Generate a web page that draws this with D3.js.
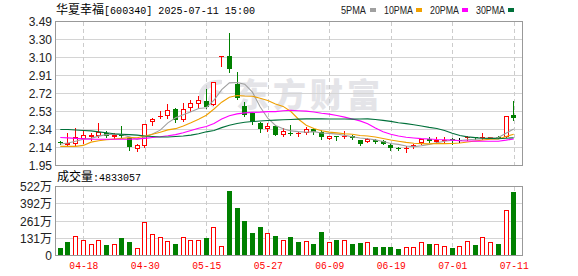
<!DOCTYPE html>
<html><head><meta charset="utf-8">
<script src="https://cdn.jsdelivr.net/npm/d3@7"></script>
<style>body{margin:0;background:#fff;}svg{display:block}</style>
</head><body><svg id="c" width="578" height="276"></svg>
<script>
const dates = ["04-15","04-16","04-17","04-18","04-21","04-22","04-23","04-24","04-25","04-28","04-29","04-30","05-06","05-07","05-08","05-09","05-12","05-13","05-14","05-15","05-16","05-19","05-20","05-21","05-22","05-23","05-26","05-27","05-28","05-29","05-30","06-03","06-04","06-05","06-06","06-09","06-10","06-11","06-12","06-13","06-16","06-17","06-18","06-19","06-20","06-23","06-24","06-25","06-26","06-27","06-30","07-01","07-02","07-03","07-04","07-07","07-08","07-09","07-10","07-11"];
const open  = [2.20,2.17,2.18,2.23,2.25,2.27,2.30,2.26,2.28,2.24, 2.13,2.16,2.41,2.47,2.48,2.55,2.44,2.57,2.61,2.64, 2.60,3.11,3.12,2.82,2.59,2.51,2.40,2.345,2.37,2.28, 2.295,2.29,2.30,2.34,2.31,2.23,2.27,2.25,2.27,2.22, 2.20,2.22,2.21,2.17,2.135,2.13,2.15,2.19,2.23,2.20, 2.215,2.23,2.22,2.24,2.25,2.24,2.255,2.26,2.25,2.49];
const high  = [2.21,2.30,2.35,2.32,2.30,2.40,2.32,2.30,2.37,2.25, 2.18,2.39,2.46,2.53,2.61,2.56,2.62,2.65,2.69,2.77, 2.84,3.12,3.37,2.95,2.63,2.52,2.41,2.40,2.38,2.35, 2.38,2.31,2.36,2.35,2.33,2.27,2.27,2.32,2.28,2.225, 2.24,2.23,2.22,2.19,2.15,2.16,2.18,2.23,2.25,2.25, 2.25,2.24,2.24,2.27,2.26,2.30,2.26,2.27,2.48,2.64];
const low   = [2.18,2.16,2.16,2.19,2.22,2.26,2.26,2.24,2.26,2.12, 2.11,2.15,2.38,2.46,2.46,2.41,2.43,2.53,2.57,2.57, 2.60,3.01,2.95,2.66,2.48,2.39,2.31,2.32,2.275,2.27, 2.28,2.27,2.29,2.29,2.23,2.23,2.22,2.24,2.23,2.17, 2.20,2.195,2.18,2.12,2.12,2.09,2.14,2.18,2.20,2.19, 2.20,2.18,2.20,2.22,2.23,2.23,2.24,2.24,2.25,2.44];
const close = [2.19,2.19,2.26,2.28,2.28,2.31,2.27,2.28,2.27,2.15, 2.17,2.39,2.45,2.48,2.54,2.44,2.55,2.62,2.65,2.58, 2.84,3.12,2.98,2.67,2.49,2.41,2.34,2.37,2.28,2.32, 2.285,2.295,2.34,2.31,2.25,2.27,2.265,2.27,2.24,2.18, 2.23,2.20,2.18,2.14,2.13,2.14,2.17,2.23,2.21,2.22, 2.22,2.22,2.22,2.25,2.24,2.25,2.26,2.25,2.48,2.46];
const volume = [540000,1000000,1510000,1200000,900000,1200000,770000,900000,1300000,1000000, 590000,2510000,1590000,1430000,1130000,900000,1380000,1200000,1200000,1300000, 2120000,740000,4910000,3610000,2610000,1690000,2150000,1740000,1460000,1200000, 1410000,1000000,1070000,840000,1770000,1000000,1150000,1150000,840000,920000, 1000000,640000,640000,640000,460000,610000,610000,1000000,840000,840000, 690000,540000,690000,1130000,770000,1380000,1000000,840000,3450000,4833057];
const volRise = [0,0,1,1,1,1,0,1,0,0, 1,1,1,1,1,0,1,1,1,0, 1,1,0,0,0,0,0,1,0,1, 0,0,1,0,0,1,0,1,0,0, 1,0,0,0,0,1,1,1,0,1, 1,0,1,1,0,1,1,0,1,0];
const ma5  = [2.18,2.19,2.21,2.23,2.240,2.264,2.280,2.284,2.282,2.256, 2.228,2.252,2.286,2.328,2.406,2.460,2.492,2.526,2.560,2.568, 2.648,2.762,2.834,2.838,2.820,2.734,2.578,2.456,2.378,2.344, 2.320,2.312,2.306,2.312,2.298,2.294,2.286,2.272,2.258,2.244, 2.236,2.224,2.206,2.186,2.176,2.158,2.152,2.162,2.176,2.194, 2.210,2.220,2.218,2.226,2.230,2.236,2.244,2.250,2.296,2.340];
const ma10 = [2.155,2.155,2.155,2.165,2.20,2.215,2.225,2.232,2.24,2.248, 2.246,2.266,2.285,2.305,2.331,2.344,2.372,2.406,2.444,2.487, 2.554,2.627,2.680,2.699,2.694,2.691,2.670,2.645,2.608,2.582, 2.527,2.445,2.381,2.345,2.321,2.307,2.299,2.289,2.285,2.271, 2.265,2.255,2.239,2.222,2.210,2.197,2.188,2.184,2.181,2.185, 2.184,2.186,2.190,2.201,2.212,2.223,2.232,2.234,2.261,2.285];
const ma20 = [2.25,2.245,2.24,2.235,2.23,2.23,2.23,2.23,2.23,2.23, 2.235,2.24,2.25,2.258,2.268,2.28,2.30,2.325,2.349,2.368, 2.400,2.447,2.483,2.502,2.513,2.518,2.521,2.526,2.526,2.535, 2.541,2.536,2.531,2.522,2.508,2.499,2.485,2.467,2.447,2.427, 2.396,2.350,2.310,2.284,2.266,2.252,2.244,2.237,2.233,2.228, 2.225,2.221,2.215,2.212,2.211,2.210,2.210,2.209,2.221,2.235];
const ma30 = [2.335,2.335,2.33,2.325,2.32,2.31,2.30,2.29,2.285,2.28, 2.275,2.265,2.26,2.255,2.255,2.26,2.265,2.275,2.29,2.31, 2.325,2.355,2.38,2.40,2.412,2.42,2.426,2.432,2.435,2.439, 2.442,2.446,2.449,2.450,2.449,2.447,2.447,2.447,2.446,2.447, 2.449,2.442,2.433,2.422,2.408,2.398,2.386,2.373,2.358,2.346, 2.325,2.295,2.270,2.256,2.248,2.242,2.240,2.236,2.242,2.247];
const priceTickValues = [1.95,2.1425,2.335,2.5275,2.72,2.9125,3.105,3.2975,3.49];
const priceTickLabels = ["1.95","2.14","2.34","2.53","2.72","2.91","3.10","3.30","3.49"];
const volTickValues = [0,1305000,2610000,3915000,5220000];
const volTickLabels = ["0","131万","261万","392万","522万"];
const xLabelDates = ["04-18","04-30","05-15","05-27","06-09","06-19","07-01","07-11"];
const maNames = ["5PMA","10PMA","20PMA","30PMA"];

const RED="#ff0000", GREEN="#008000";
const maColors = ["#a0a0a0","#f0a000","#ff00ff","#00703a"];
const svg = d3.select("#c");
const L=55.5, R=522.5, T=21.5, B=165.5, VT=186.5, VB=255.5;

const x = d3.scalePoint().domain(dates).range([60.3, 513.7]);
const y = d3.scaleLinear().domain([1.95, 3.49]).range([B, T]);
const yv = d3.scaleLinear().domain([0, 5220000]).range([VB, VT]);
const px = v => Math.round(v) + 0.5;

// watermark
const wm = svg.append("g");
wm.append("text").attr("x",236).attr("y",107).text("东方财富")
  .attr("font-family","'Noto Sans CJK SC'").attr("font-weight",900).attr("font-size",33)
  .attr("letter-spacing",4).attr("fill","#e4e4e8");
wm.append("path").attr("d","M222,80 C200,78 192,98 206,106 C200,96 206,86 222,84 Z M216,90 C206,94 206,104 214,108 C212,100 216,95 224,92 Z")
  .attr("fill","#e4e4e8");

// grids
const grid = svg.append("g").attr("shape-rendering","crispEdges");
grid.selectAll(".hg").data(priceTickValues).join("line")
  .attr("x1",L).attr("x2",R).attr("y1",d=>px(y(d)-0.5)).attr("y2",d=>px(y(d)-0.5))
  .attr("stroke","#d4d4d4");
grid.selectAll(".vg").data(volTickValues).join("line")
  .attr("x1",L).attr("x2",R).attr("y1",d=>px(yv(d)-0.5)).attr("y2",d=>px(yv(d)-0.5))
  .attr("stroke","#d4d4d4");
[[T,B],[VT,VB]].forEach(([a,b])=>{
  grid.append("g").selectAll("line").data(xLabelDates).join("line")
    .attr("x1",d=>px(x(d))).attr("x2",d=>px(x(d))).attr("y1",a).attr("y2",b)
    .attr("stroke","#cccccc").attr("stroke-dasharray","4,3");
});

// axes labels
const yAxis = d3.axisLeft(y).tickValues(priceTickValues).tickFormat((d,i)=>priceTickLabels[i]).tickSize(0).tickPadding(0);
const ga = svg.append("g").attr("transform","translate(52,0)").call(yAxis);
ga.select(".domain").remove();
ga.selectAll("text").attr("font-family","'Liberation Sans',Arial,sans-serif").attr("font-size",12).attr("fill","#222").attr("dy","0.35em");
const vAxis = d3.axisLeft(yv).tickValues(volTickValues).tickFormat((d,i)=>volTickLabels[i]).tickSize(0).tickPadding(0);
const gv = svg.append("g").attr("transform","translate(52,0)").call(vAxis);
gv.select(".domain").remove();
gv.selectAll("text").attr("font-family","'Liberation Sans','Noto Sans CJK SC',sans-serif").attr("font-size",12).attr("fill","#222").attr("dy","0.35em");

const xAxis = d3.axisBottom(x).tickValues(xLabelDates).tickSize(0).tickPadding(0);
const gx = svg.append("g").attr("transform","translate(0,261)").call(xAxis);
gx.select(".domain").remove();
gx.selectAll("text").attr("font-family","'Liberation Mono',monospace").attr("font-size",11)
  .attr("fill",RED).attr("dy","0.72em").attr("textLength",29).attr("lengthAdjust","spacingAndGlyphs");

// candles
const cg = svg.append("g").attr("shape-rendering","crispEdges");
dates.forEach((d,i)=>{
  const X0 = Math.round(x(d) - 2.5);
  const o=open[i], c=close[i];
  const col = c>o ? RED : (c<o ? GREEN : "#000");
  const yTop = Math.round(y(Math.max(o,c))), yBot = Math.round(y(Math.min(o,c)));
  const h = Math.max(1, yBot - yTop);
  cg.append("line").attr("x1",X0+2.5).attr("x2",X0+2.5)
    .attr("y1",Math.round(y(high[i]))).attr("y2",Math.round(y(low[i]))+1).attr("stroke",col);
  if (c>o && h>2) {
    cg.append("rect").attr("x",X0+0.5).attr("y",yTop+0.5).attr("width",4).attr("height",h-1)
      .attr("fill","#fff").attr("stroke",col);
  } else {
    cg.append("rect").attr("x",X0).attr("y",yTop).attr("width",5).attr("height",h).attr("fill",col);
  }
  // volume
  const vt = Math.round(yv(volume[i]));
  const vh = Math.round(VB) - vt;
  if (volRise[i]) {
    cg.append("rect").attr("x",X0+0.5).attr("y",vt+0.5).attr("width",4).attr("height",Math.max(0,vh-1))
      .attr("fill","#fff").attr("stroke",RED);
  } else {
    cg.append("rect").attr("x",X0).attr("y",vt).attr("width",5).attr("height",vh).attr("fill",GREEN);
  }
});

// moving averages
const line = d3.line().x((v,i)=>x(dates[i])).y(v=>y(v));
[ma5,ma10,ma20,ma30].forEach((arr,k)=>{
  svg.append("path").attr("d",line(arr)).attr("fill","none").attr("stroke",maColors[k]).attr("stroke-width",1.1);
});

// frames
const fr = svg.append("g").attr("shape-rendering","crispEdges").attr("fill","none").attr("stroke","#999");
fr.append("rect").attr("x",L).attr("y",T).attr("width",R-L).attr("height",B-T);
fr.append("rect").attr("x",L).attr("y",VT).attr("width",R-L).attr("height",VB-VT);

// title
const title = svg.append("text").attr("x",56).attr("y",14).attr("fill","#000")
  .attr("font-family","'Liberation Mono',monospace").attr("font-size",11);
title.append("tspan").attr("font-family","'Noto Sans CJK SC'").attr("font-size",12).text("华夏幸福");
title.append("tspan").attr("textLength",151).attr("lengthAdjust","spacingAndGlyphs").text("[600340] 2025-07-11 15:00");

// legend
const legX = [341,384,430,476], legW=[25,29,29,29], sqX=[370,416,462,508];
maNames.forEach((n,k)=>{
  svg.append("text").attr("x",legX[k]).attr("y",14).text(n)
    .attr("font-family","'Liberation Sans',Arial,sans-serif").attr("font-size",11).attr("fill","#222")
    .attr("textLength",legW[k]).attr("lengthAdjust","spacingAndGlyphs");
  svg.append("rect").attr("x",sqX[k]).attr("y",8).attr("width",6).attr("height",4).attr("fill",maColors[k]);
});

// volume header
const vh = svg.append("text").attr("x",57).attr("y",181).attr("fill","#000")
  .attr("font-family","'Liberation Mono',monospace").attr("font-size",11);
vh.append("tspan").attr("font-family","'Noto Sans CJK SC'").attr("font-size",12).text("成交量");
vh.append("tspan").attr("textLength",48).attr("lengthAdjust","spacingAndGlyphs").text(":" + volume[volume.length-1]);
</script></body></html>
